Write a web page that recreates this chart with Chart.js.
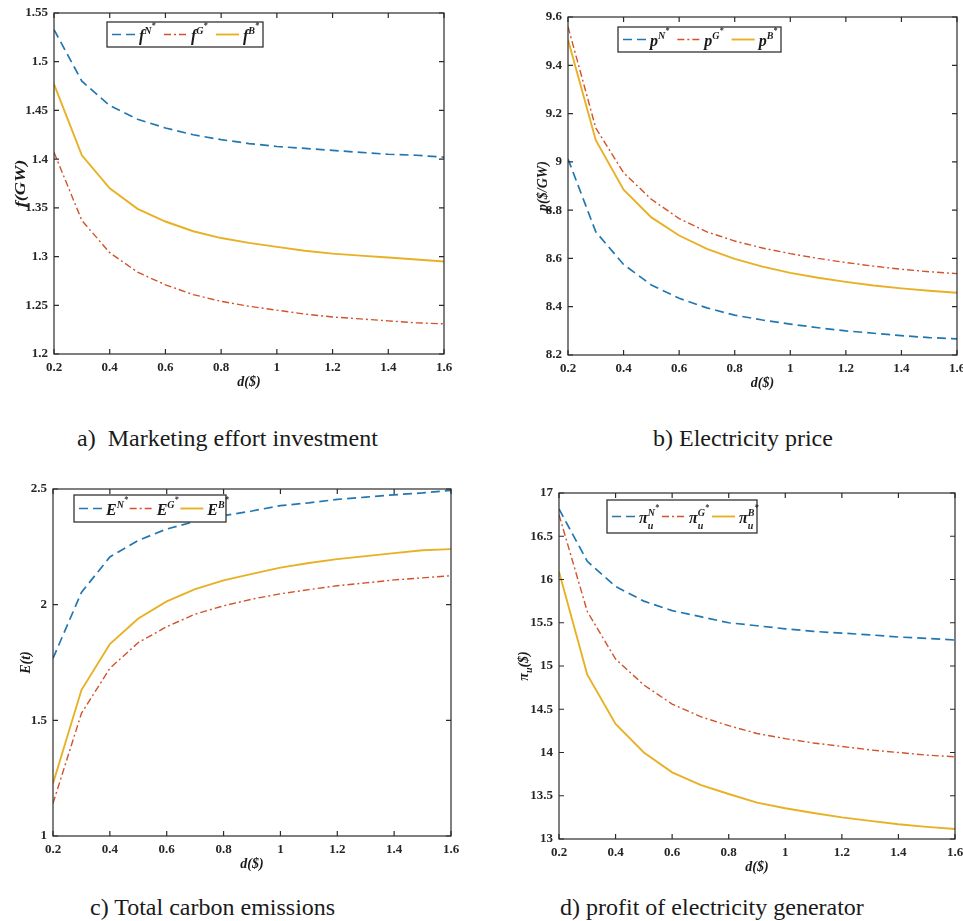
<!DOCTYPE html>
<html>
<head>
<meta charset="utf-8">
<script src="https://cdn.jsdelivr.net/npm/chart.js@4.4.1/dist/chart.umd.min.js"></script>
<style>
    body{margin:0;background:#fff;width:963px;height:921px;overflow:hidden;position:relative}
    canvas{position:absolute}
    .legenda{position:absolute;font-family:"Liberation Serif","Times New Roman",serif;font-size:24px;line-height:24px;color:#1a1a1a;white-space:pre}
</style>
</head>
<body>
<div class="legenda" style="left:77px;top:426px">a)  Marketing effort investment</div>
<div class="legenda" style="left:653px;top:426px">b) Electricity price</div>
<div class="legenda" style="left:90px;top:895px">c) Total carbon emissions</div>
<div class="legenda" style="left:560px;top:895px">d) profit of electricity generator</div>
<script>
// valores de d($)
var custoD = [0.2,0.3,0.4,0.5,0.6,0.7,0.8,0.9,1.0,1.1,1.2,1.3,1.4,1.5,1.6]

// a) investimento em marketing f(GW)
var fN = [1.533,1.480,1.455,1.441,1.432,1.425,1.420,1.416,1.413,1.411,1.409,1.407,1.405,1.404,1.402]
var fG = [1.407,1.337,1.304,1.284,1.271,1.261,1.254,1.249,1.245,1.241,1.238,1.236,1.234,1.232,1.231]
var fB = [1.477,1.404,1.370,1.349,1.336,1.326,1.319,1.314,1.310,1.306,1.303,1.301,1.299,1.297,1.295]

// b) preco da eletricidade p($/GW)
var pN = [9.012,8.71,8.575,8.49,8.435,8.395,8.365,8.345,8.328,8.313,8.300,8.290,8.280,8.272,8.267]
var pG = [9.56,9.14,8.955,8.845,8.765,8.710,8.672,8.643,8.620,8.600,8.583,8.568,8.555,8.545,8.537]
var pB = [9.506,9.09,8.885,8.770,8.695,8.640,8.598,8.566,8.540,8.520,8.503,8.488,8.476,8.466,8.458]

// c) emissoes totais E(t)
var eN = [1.768,2.053,2.206,2.278,2.327,2.360,2.385,2.405,2.428,2.440,2.455,2.465,2.475,2.483,2.494]
var eG = [1.141,1.530,1.725,1.836,1.905,1.959,1.995,2.024,2.047,2.065,2.082,2.094,2.107,2.116,2.125]
var eB = [1.227,1.631,1.830,1.940,2.014,2.067,2.105,2.133,2.160,2.180,2.197,2.210,2.223,2.235,2.240]

// d) lucro do gerador pi_u($)
var uN = [16.815,16.21,15.92,15.75,15.64,15.57,15.50,15.465,15.43,15.40,15.38,15.36,15.335,15.32,15.30]
var uG = [16.75,15.63,15.08,14.78,14.56,14.415,14.31,14.22,14.16,14.11,14.07,14.03,14.00,13.97,13.95]
var uB = [16.09,14.90,14.33,14.00,13.77,13.625,13.52,13.42,13.355,13.30,13.25,13.21,13.17,13.14,13.115]

// limites dos eixos [min, max, passo]
var eixoX = [0.2, 1.6, 0.2]
var eixoF = [1.2, 1.55, 0.05]
var eixoP = [8.2, 9.6, 0.2]
var eixoE = [1, 2.5, 0.5]
var eixoU = [13, 17, 0.5]

var cenarios = ['N','G','B']

var cores = ['#2377b1','#d2532a','#e8b125']
var tracos = [[9,5],[7,3,2,3],[]]
var larguras = [1.7,1.4,1.9]
var fonte = '"Liberation Serif","Times New Roman",serif'

/**
 * @description: escreve texto com sobrescrito/subscrito
 * partes: [texto, tamanho, deslocamento, nao avanca]
 */
function escreverRico(ctx, partes, x, y, medir){
    var inicio = x
    partes.forEach(function(p){
        ctx.font = 'italic bold ' + p[1] + 'px ' + fonte
        if(!medir) ctx.fillText(p[0], x, y + p[2])
        if(!p[3]) x += ctx.measureText(p[0]).width
    })
    return x - inicio
}

function partesRotulo(base, sub, letra){
    var partes = [[base, 16, 0]]
    if(sub) partes.push([sub, 10, 6, true])
    partes.push([letra, 10, -7])
    partes.push(['*', 8, -13])
    return partes
}

// moldura estilo matlab com ticks para dentro, legenda e titulo do eixo y
var pluginMoldura = {
    id: 'moldura',
    afterDatasetsDraw: function(chart){
        var ctx = chart.ctx
        var a = chart.chartArea
        var cfg = chart.options.plugins.moldura
        var x = chart.scales.x, y = chart.scales.y
        ctx.save()
        ctx.strokeStyle = '#2b2b2b'
        ctx.lineWidth = 1.2
        ctx.strokeRect(a.left, a.top, a.right - a.left, a.bottom - a.top)
        ctx.beginPath()
        x.ticks.forEach(function(t){
            var px = x.getPixelForValue(t.value)
            ctx.moveTo(px, a.bottom); ctx.lineTo(px, a.bottom - 5)
            ctx.moveTo(px, a.top); ctx.lineTo(px, a.top + 5)
        })
        y.ticks.forEach(function(t){
            var py = y.getPixelForValue(t.value)
            ctx.moveTo(a.left, py); ctx.lineTo(a.left + 5, py)
            ctx.moveTo(a.right, py); ctx.lineTo(a.right - 5, py)
        })
        ctx.stroke()

        // legenda
        var c = chart.canvas
        var ox = parseFloat(c.style.left), oy = parseFloat(c.style.top)
        var b = cfg.caixa
        var bx = b[0] - ox, by = b[1] - oy, bw = b[2] - b[0], bh = b[3] - b[1]
        ctx.fillStyle = '#fff'
        ctx.fillRect(bx, by, bw, bh)
        ctx.strokeStyle = '#333'
        ctx.lineWidth = 1.3
        ctx.strokeRect(bx, by, bw, bh)
        var meio = by + bh / 2
        cenarios.forEach(function(s, i){
            var ix = bx + i * bw / 3
            ctx.beginPath()
            ctx.strokeStyle = cores[i]
            ctx.lineWidth = larguras[i]
            ctx.setLineDash(tracos[i])
            ctx.moveTo(ix + 5, meio)
            ctx.lineTo(ix + 28, meio)
            ctx.stroke()
            ctx.setLineDash([])
            ctx.fillStyle = '#1a1a1a'
            ctx.textBaseline = 'alphabetic'
            escreverRico(ctx, partesRotulo(cfg.base, cfg.sub, s), ix + 32, meio + 6)
        })

        // titulo do eixo y (girado, com esticamento opcional)
        ctx.save()
        ctx.translate(a.left + cfg.tituloX, (a.top + a.bottom) / 2)
        ctx.rotate(-Math.PI / 2)
        ctx.scale(cfg.estica || 1, 1)
        ctx.fillStyle = '#1a1a1a'
        var w = escreverRico(ctx, cfg.tituloY, 0, 0, true)
        escreverRico(ctx, cfg.tituloY, -w / 2, 5)
        ctx.restore()
        ctx.restore()
    }
}

function rotuloTick(v){
    return String(+v.toFixed(3))
}

/**
 * @description: monta um painel
 * area: [esquerda, topo, direita, base] da area de plotagem
 */
function montarPainel(area, limites, series, opcoes){
    var canvas = document.createElement('canvas')
    canvas.width = (area[2] - area[0]) + 80
    canvas.height = (area[3] - area[1]) + 55
    canvas.style.left = (area[0] - 60) + 'px'
    canvas.style.top = (area[1] - 15) + 'px'
    document.body.appendChild(canvas)

    var datasets = series.map(function(serie, i){
        return {
            data: serie.map(function(v, k){ return {x: custoD[k], y: v} }),
            borderColor: cores[i],
            borderWidth: larguras[i],
            borderDash: tracos[i],
            pointRadius: 0,
            tension: 0,
            fill: false
        }
    })

    var fonteTick = {family: fonte, size: 13, weight: 'bold'}

    new Chart(canvas.getContext('2d'), {
        type: 'line',
        data: {datasets: datasets},
        options: {
            responsive: false,
            animation: false,
            layout: {padding: {left: 0, top: 15, right: 20, bottom: 0}},
            plugins: {
                legend: {display: false},
                tooltip: {enabled: false},
                moldura: opcoes
            },
            scales: {
                x: {
                    type: 'linear',
                    min: eixoX[0], max: eixoX[1],
                    grid: {display: false, drawTicks: false},
                    border: {display: false},
                    ticks: {stepSize: eixoX[2], font: fonteTick, color: '#262626', padding: 6, maxRotation: 0, callback: rotuloTick},
                    title: {display: true, text: 'd($)', color: '#1a1a1a', font: {family: fonte, size: 14, style: 'italic', weight: 'bold'}, padding: {top: 0, bottom: 3}},
                    afterFit: function(s){ s.height = 40; s.paddingLeft = 0; s.paddingRight = 0 }
                },
                y: {
                    min: limites[0], max: limites[1],
                    grid: {display: false, drawTicks: false},
                    border: {display: false},
                    ticks: {stepSize: limites[2], font: fonteTick, color: '#262626', padding: 6, callback: rotuloTick},
                    afterFit: function(s){ s.width = 60; s.paddingTop = 0; s.paddingBottom = 0 }
                }
            }
        },
        plugins: [pluginMoldura]
    })
}

montarPainel([54,13,444,354], eixoF, [fN,fG,fB], {
    caixa: [107,22,263,47], base: 'f', sub: '', tituloX: -34, estica: 1.3,
    tituloY: [['f(GW)', 14, 0]]
})
montarPainel([568,17,957,355], eixoP, [pN,pG,pB], {
    caixa: [618,27,781,52], base: 'p', sub: '', tituloX: -26,
    tituloY: [['p($/GW)', 14, 0]]
})
montarPainel([53,489,451,836], eixoE, [eN,eG,eB], {
    caixa: [74,495,226,522], base: 'E', sub: '', tituloX: -28,
    tituloY: [['E(t)', 14, 0]]
})
montarPainel([559,493,955,839], eixoU, [uN,uG,uB], {
    caixa: [607,500,757,533], base: 'π', sub: 'u', tituloX: -36,
    tituloY: [['π', 14, 0], ['u', 10, 4], ['($)', 14, 0]]
})
</script>
</body>
</html>
